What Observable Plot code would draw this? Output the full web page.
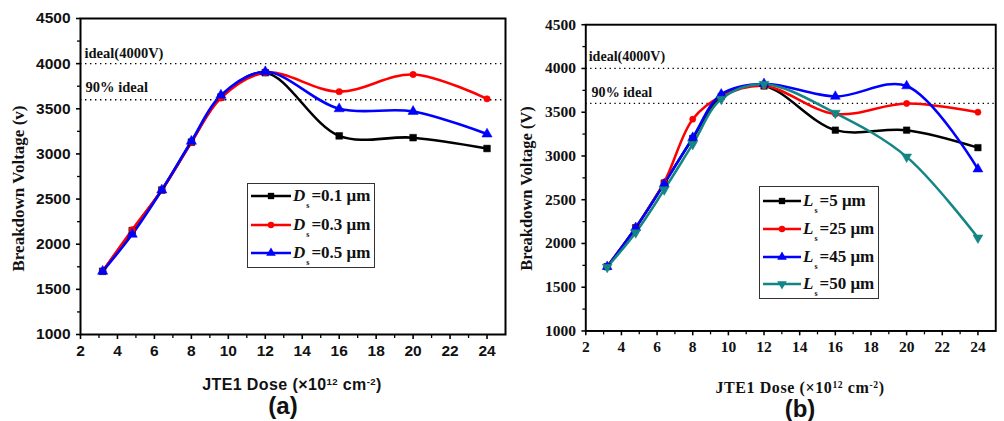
<!DOCTYPE html>
<html><head><meta charset="utf-8">
<script src="https://cdn.jsdelivr.net/npm/d3@7"></script>
<script src="https://cdn.jsdelivr.net/npm/@observablehq/plot@0.6"></script>
<style>
body{margin:0;background:#fff;width:1004px;height:421px;overflow:hidden;position:relative;}
.pane{position:absolute;top:0;}
.xl{position:absolute;transform:translate(-50%,-50%);white-space:nowrap;font-weight:bold;color:#111;line-height:16px;}
.xl sup{font-size:0.6em;vertical-align:0.55em;line-height:0;}
.tag{position:absolute;transform:translate(-50%,-50%);font-family:"Liberation Sans",Arial,sans-serif;font-weight:bold;font-size:24px;line-height:22px;color:#111;}
.legend{position:absolute;border:1.5px solid #333;background:#fff;box-sizing:border-box;}
.row{position:absolute;left:0;height:20px;display:flex;align-items:center;}
.row svg{display:block;}
.lt{font-family:"Liberation Serif","Times New Roman",serif;font-weight:bold;font-size:17px;color:#111;margin-left:2px;white-space:nowrap;}
.lt i{font-style:italic;}
.lt sub{font-size:8px;font-style:normal;vertical-align:-7px;line-height:0;margin:0 2px 0 1px;}
</style></head><body>
<div id="pa" class="pane" style="left:0"></div>
<div id="pb" class="pane" style="left:500px"></div>
<script>
// ---- data ----
const dose = [3.2, 4.8, 6.4, 8, 9.6, 12, 16, 20, 24];
const dsLabels = ["0.1", "0.3", "0.5"];
const bvD01 = [1700, 2150, 2600, 3130, 3630, 3900, 3200, 3180, 3060];
const bvD03 = [1700, 2160, 2600, 3130, 3620, 3900, 3690, 3880, 3610];
const bvD05 = [1700, 2110, 2600, 3140, 3650, 3910, 3500, 3470, 3220];
const lsLabels = ["5", "25", "45", "50"];
const bvL5  = [1735, 2180, 2690, 3200, 3680, 3800, 3295, 3295, 3095];
const bvL25 = [1735, 2180, 2700, 3420, 3680, 3800, 3480, 3600, 3500];
const bvL45 = [1735, 2180, 2680, 3210, 3705, 3825, 3680, 3800, 2850];
const bvL50 = [1730, 2125, 2615, 3135, 3650, 3820, 3490, 2990, 2065];
const xMajor = [2, 4, 6, 8, 10, 12, 14, 16, 18, 20, 22, 24];
const xMinor = [3, 5, 7, 9, 11, 13, 15, 17, 19, 21, 23];
const yMajor = [1000, 1500, 2000, 2500, 3000, 3500, 4000, 4500];
const yMinor = [1250, 1750, 2250, 2750, 3250, 3750, 4250];
const refIdeal = [{value: 4000, label: "ideal(4000V)"}];
const ref90 = [{value: 3600, label: "90% ideal"}];
const colors = ["#000000", "#ff0000", "#0000ff", "#138585"];
const symbols = ["square", "circle", "triangle", "triangle"];
const rotations = [0, 0, 0, 180];

function toRows(values, names) {
  const rows = [];
  values.forEach((vals, i) => vals.forEach((v, j) => rows.push({x: dose[j], y: v, s: i, name: names[i]})));
  return rows;
}

const SERIF = "Liberation Serif, Times New Roman, serif";
const SANS = "Liberation Sans, Arial, sans-serif";

function panel({rows, n, width, mL, mR, mT, mB, tickFont, tickSize, yLabel, yDx, yDy, idealDy, ninetyDy, idealDx, ninetyDx}) {
  const marks = [
    Plot.ruleY(refIdeal.concat(ref90), {y: "value", stroke: "#000", strokeWidth: 1.3, strokeDasharray: "1.4,3.6"}),
    Plot.text(refIdeal, {y: "value", text: "label", frameAnchor: "left", textAnchor: "start", dx: idealDx, dy: idealDy, fontFamily: SERIF, fontWeight: "bold", fontSize: 14.5, fill: "#111"}),
    Plot.text(ref90, {y: "value", text: "label", frameAnchor: "left", textAnchor: "start", dx: ninetyDx, dy: ninetyDy, fontFamily: SERIF, fontWeight: "bold", fontSize: 14.5, fill: "#111"})
  ];
  for (let i = 0; i < n; i++) {
    const d = rows.filter(r => r.s === i);
    marks.push(Plot.line(d, {x: "x", y: "y", stroke: colors[i], strokeWidth: 2.6, curve: "catmull-rom"}));
  }
  for (let i = 0; i < n; i++) {
    const d = rows.filter(r => r.s === i);
    marks.push(Plot.dot(d, {x: "x", y: "y", fill: colors[i], stroke: colors[i], strokeWidth: 0.5, r: symbols[i] === "circle" ? 3.2 : 3.8, symbol: symbols[i], rotate: rotations[i]}));
  }
  marks.push(
    Plot.frame({stroke: "#000", strokeWidth: 2}),
    Plot.axisX({ticks: xMajor, tickSize: 5, tickPadding: 5, tickFormat: "d", fontSize: tickSize, fontWeight: "bold", fontFamily: tickFont, fill: "#111", strokeWidth: 1.6, label: null}),
    Plot.axisX({ticks: xMinor, tickSize: 4, text: null, strokeWidth: 1.3, label: null}),
    Plot.axisY({ticks: yMajor, tickSize: 4, tickPadding: 6, tickFormat: "d", fontSize: tickSize, fontWeight: "bold", fontFamily: tickFont, fill: "#111", strokeWidth: 1.6, label: null}),
    Plot.axisY({ticks: yMinor, tickSize: 3, text: null, strokeWidth: 1.3, label: null}),
    Plot.text([yLabel], {text: d => d, frameAnchor: "left", textAnchor: "middle", rotate: -90, dx: yDx, dy: yDy, fontFamily: SERIF, fontWeight: "bold", fontSize: 17, fill: "#111"})
  );
  return Plot.plot({
    width, height: 421, marginLeft: mL, marginRight: mR, marginTop: mT, marginBottom: mB,
    x: {domain: [2, 25]}, y: {domain: [1000, 4500]},
    style: {overflow: "visible", background: "transparent"},
    marks
  });
}

document.getElementById("pa").append(panel({
  rows: toRows([bvD01, bvD03, bvD05], dsLabels), n: 3,
  width: 510, mL: 80, mR: 5, mT: 18, mB: 87,
  tickFont: SANS, tickSize: 15.5, yLabel: "Breakdown Voltage (v)", yDx: -62, yDy: 12,
  idealDx: 4, idealDy: -10, ninetyDx: 5, ninetyDy: -12
}));
document.getElementById("pb").append(panel({
  rows: toRows([bvL5, bvL25, bvL45, bvL50], lsLabels), n: 4,
  width: 520, mL: 88, mR: 9, mT: 25, mB: 80,
  tickFont: SERIF, tickSize: 16, yLabel: "Breakdown Voltage (V)", yDx: -61, yDy: 11,
  idealDx: 3, idealDy: -12, ninetyDx: 6, ninetyDy: -11
}));

// ---- axis titles & tags ----
function addDiv(cls, html, x, y, style) {
  const d = document.createElement("div");
  d.className = cls; d.innerHTML = html;
  d.style.left = x + "px"; d.style.top = y + "px";
  Object.assign(d.style, style || {});
  document.body.append(d);
}
addDiv("xl", "JTE1 Dose (×10<sup>12</sup> cm<sup>-2</sup>)", 292, 385, {fontFamily: SANS, fontSize: "16px", letterSpacing: "0.4px"});
addDiv("tag", "(a)", 283, 406);
addDiv("xl", "JTE1 Dose (×10<sup>12</sup> cm<sup>-2</sup>)", 800, 388, {fontFamily: SERIF, fontSize: "16px", letterSpacing: "0.6px"});
addDiv("tag", "(b)", 800, 409);

// ---- legends ----
function legend(x, y, w, h, names, prefix, rowYs, swW) {
  const box = document.createElement("div");
  box.className = "legend";
  Object.assign(box.style, {left: x + "px", top: y + "px", width: w + "px", height: h + "px"});
  names.forEach((nm, i) => {
    const row = document.createElement("div");
    row.className = "row";
    row.style.top = (rowYs[i] - y - 10) + "px";
    row.style.left = "3px";
    const svg = d3.create("svg").attr("width", swW).attr("height", 20);
    svg.append("line").attr("x1", 0).attr("x2", swW).attr("y1", 10).attr("y2", 10).attr("stroke", colors[i]).attr("stroke-width", 2.6);
    const sym = {square: d3.symbolSquare, circle: d3.symbolCircle, triangle: d3.symbolTriangle}[symbols[i]];
    svg.append("path").attr("d", d3.symbol(sym, symbols[i] === "circle" ? 32 : 40)())
      .attr("transform", `translate(${swW / 2},10) rotate(${rotations[i]})`).attr("fill", colors[i]);
    row.append(svg.node());
    const t = document.createElement("span");
    t.className = "lt";
    t.innerHTML = `<i>${prefix}</i><sub>s</sub>=${nm} μm`;
    row.append(t);
    box.append(row);
  });
  document.body.append(box);
}
legend(247, 183, 128, 85, dsLabels, "D", [195, 224, 252], 40);
legend(759, 186, 120, 113, lsLabels, "L", [200, 228, 256, 283], 38);
</script>
</body></html>
